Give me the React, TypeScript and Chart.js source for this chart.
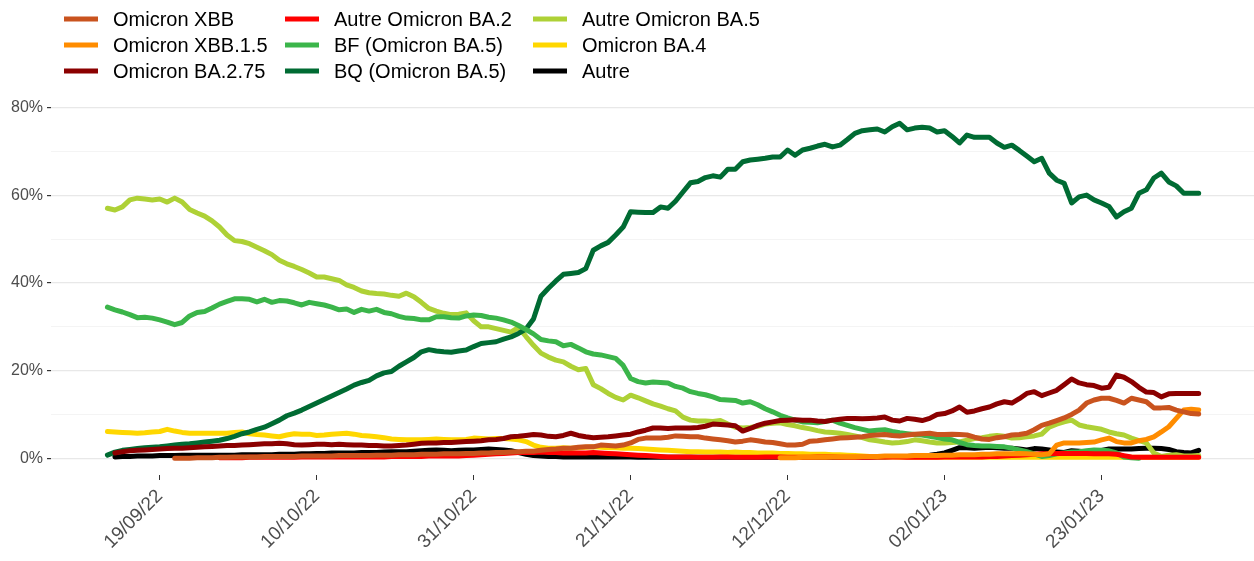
import React, { useEffect, useRef } from "react";
import { Chart, registerables } from "chart.js";

Chart.register(...registerables);

const FONT = '"Liberation Sans", Arial, Helvetica, sans-serif';

// Daily categories: 12/09/22 -> 05/02/23
const START_Y = 2022, START_M = 8, START_D = 12, N_DAYS = 147;
const dates: string[] = Array.from({ length: N_DAYS }, (_, i) => {
  const d = new Date(START_Y, START_M, START_D + i);
  const dd = String(d.getDate()).padStart(2, "0");
  const mm = String(d.getMonth() + 1).padStart(2, "0");
  const yy = String(d.getFullYear() % 100).padStart(2, "0");
  return `${dd}/${mm}/${yy}`;
});

const tickLabels = ["19/09/22", "10/10/22", "31/10/22", "21/11/22", "12/12/22", "02/01/23", "23/01/23"];
const yTicks = [0, 10, 20, 30, 40, 50, 60, 70, 80];

const N = null;

const omicronXBB = [
  N, N, N, N, N, N, N, N, N, 0.0,
  0.0, 0.0, 0.1, 0.1, 0.1, 0.2, 0.2, 0.3, 0.3, 0.3,
  0.3, 0.4, 0.4, 0.4, 0.4, 0.4, 0.5, 0.5, 0.5, 0.5,
  0.5, 0.6, 0.6, 0.6, 0.6, 0.6, 0.7, 0.7, 0.7, 0.8,
  0.8, 0.8, 0.9, 0.9, 0.9, 1.0, 1.0, 1.0, 1.1, 1.1,
  1.2, 1.2, 1.3, 1.3, 1.4, 1.5, 1.6, 1.6, 1.8, 2.0,
  2.1, 2.3, 2.3, 2.5, 2.6, 2.6, 3.0, 2.9, 2.8, 3.0,
  3.5, 4.3, 4.6, 4.6, 4.6, 4.8, 5.1, 5.0, 4.9, 4.9,
  4.6, 4.4, 4.2, 4.0, 3.7, 3.9, 4.2, 4.0, 3.7, 3.6,
  3.3, 3.0, 3.0, 3.2, 3.9, 4.0, 4.2, 4.4, 4.6, 4.7,
  4.8, 4.9, 5.2, 5.3, 5.4, 5.2, 5.1, 5.3, 5.5, 5.6,
  5.7, 5.4, 5.4, 5.5, 5.4, 5.3, 4.8, 4.4, 4.3, 4.7,
  4.9, 5.3, 5.4, 5.7, 6.5, 7.5, 8.0, 8.6, 9.2, 10.0,
  11.0, 12.6, 13.3, 13.7, 13.7, 13.2, 12.6, 13.7, 13.3, 12.9,
  11.5, 11.5, 11.6, 11.0, 10.6, 10.2, 10.1,
];

const omicronXBB15 = [
  N, N, N, N, N, N, N, N, N, N,
  N, N, N, N, N, N, N, N, N, N,
  N, N, N, N, N, N, N, N, N, N,
  N, N, N, N, N, N, N, N, N, N,
  N, N, N, N, N, N, N, N, N, N,
  N, N, N, N, N, N, N, N, N, N,
  N, N, N, N, N, N, N, N, N, N,
  N, N, N, N, N, N, N, N, N, N,
  N, N, N, N, N, N, N, N, N, N,
  0.1, 0.1, 0.1, 0.2, 0.2, 0.2, 0.2, 0.3, 0.3, 0.3,
  0.3, 0.4, 0.4, 0.4, 0.5, 0.5, 0.5, 0.5, 0.6, 0.6,
  0.6, 0.6, 0.7, 0.7, 0.8, 0.8, 0.8, 0.9, 0.9, 1.0,
  1.0, 1.0, 1.1, 1.0, 0.9, 0.8, 1.0, 3.0, 3.5, 3.5,
  3.5, 3.6, 3.7, 4.2, 4.6, 3.8, 3.5, 3.5, 4.0, 4.3,
  4.9, 6.0, 7.2, 9.1, 11.0, 11.2, 11.0,
];

const omicronBA275 = [
  N, 1.2, 1.5, 1.7, 1.8, 1.9, 2.0, 2.1, 2.2, 2.3,
  2.3, 2.4, 2.5, 2.6, 2.7, 2.8, 2.9, 2.9, 3.0, 3.1,
  3.2, 3.3, 3.3, 3.4, 3.3, 3.1, 3.0, 3.1, 3.2, 3.2,
  3.1, 3.2, 3.1, 3.0, 3.0, 2.9, 2.9, 2.8, 2.8, 2.9,
  3.0, 3.2, 3.4, 3.5, 3.5, 3.6, 3.6, 3.7, 3.8, 3.9,
  4.0, 4.2, 4.3, 4.5, 4.9, 5.0, 5.2, 5.4, 5.3, 5.0,
  4.9, 5.2, 5.7, 5.2, 4.9, 4.7, 4.8, 4.9, 5.1, 5.3,
  5.5, 6.0, 6.4, 6.9, 6.9, 6.8, 6.9, 6.9, 6.9, 7.0,
  7.3, 7.8, 7.7, 7.6, 7.4, 6.2, 6.8, 7.5, 8.0, 8.3,
  8.6, 8.7, 8.8, 8.7, 8.7, 8.5, 8.4, 8.7, 8.9, 9.1,
  9.1, 9.0, 9.1, 9.2, 9.4, 8.7, 8.5, 9.1, 8.9, 8.6,
  9.1, 10.0, 10.2, 10.8, 11.7, 10.5, 10.8, 11.3, 11.7, 12.4,
  12.9, 12.6, 13.6, 14.8, 15.2, 14.3, 14.9, 15.5, 16.8, 18.1,
  17.2, 16.8, 16.6, 16.0, 16.2, 19.0, 18.5, 17.5, 16.2, 15.1,
  15.0, 14.0, 14.7, 14.8, 14.8, 14.8, 14.8,
];

const autreBA2 = [
  N, N, N, N, N, N, N, N, N, N,
  N, N, N, N, N, 0.1, 0.1, 0.1, 0.1, 0.2,
  0.2, 0.2, 0.2, 0.2, 0.2, 0.2, 0.3, 0.3, 0.3, 0.3,
  0.3, 0.3, 0.3, 0.3, 0.3, 0.3, 0.3, 0.3, 0.4, 0.4,
  0.4, 0.4, 0.4, 0.5, 0.5, 0.5, 0.5, 0.5, 0.6, 0.7,
  0.8, 0.9, 1.0, 1.1, 1.2, 1.3, 1.3, 1.3, 1.4, 1.3,
  1.3, 1.2, 1.2, 1.2, 1.2, 1.3, 1.2, 1.1, 1.0, 0.9,
  0.8, 0.7, 0.6, 0.5, 0.4, 0.3, 0.3, 0.3, 0.3, 0.2,
  0.2, 0.2, 0.3, 0.3, 0.2, 0.2, 0.2, 0.2, 0.3, 0.3,
  0.3, 0.2, 0.2, 0.2, 0.2, 0.3, 0.3, 0.3, 0.2, 0.2,
  0.2, 0.2, 0.2, 0.3, 0.3, 0.3, 0.3, 0.2, 0.2, 0.2,
  0.2, 0.2, 0.3, 0.3, 0.3, 0.3, 0.3, 0.3, 0.4, 0.4,
  0.5, 0.6, 0.7, 0.8, 0.9, 1.0, 1.0, 1.1, 1.1, 1.1,
  1.1, 1.1, 1.0, 1.0, 1.0, 0.9, 0.6, 0.3, 0.2, 0.2,
  0.2, 0.2, 0.2, 0.2, 0.2, 0.2, 0.2,
];

const bfBA5 = [
  34.5, 33.9, 33.4, 32.8, 32.1, 32.2, 32.0, 31.6, 31.1, 30.5,
  31.0, 32.5, 33.3, 33.5, 34.3, 35.2, 35.8, 36.4, 36.4, 36.3,
  35.7, 36.3, 35.6, 36.0, 35.9, 35.5, 35.0, 35.6, 35.3, 35.0,
  34.5, 33.9, 34.1, 33.3, 34.0, 33.6, 34.0, 33.3, 33.0, 32.4,
  32.0, 31.9, 31.6, 31.6, 32.3, 32.3, 32.1, 32.0, 32.5, 32.7,
  32.6, 32.2, 32.0, 31.6, 31.1, 30.3, 29.4, 28.4, 27.1, 26.8,
  26.6, 25.7, 26.0, 25.2, 24.3, 23.8, 23.6, 23.2, 22.8, 21.2,
  18.2, 17.5, 17.2, 17.4, 17.3, 17.2, 16.4, 16.0, 15.2, 14.8,
  14.5, 14.0, 13.4, 13.3, 13.2, 12.6, 12.9, 12.2, 11.3, 10.6,
  9.8, 9.2, 8.7, 8.3, 8.2, 8.1, 8.4, 8.7, 8.0, 7.5,
  7.0, 6.6, 6.2, 6.4, 6.5, 6.1, 5.8, 5.6, 5.4, 5.3,
  5.0, 4.7, 4.4, 4.2, 3.6, 3.1, 2.9, 2.8, 2.8, 2.7,
  2.6, 2.3, 1.9, 1.5, 1.0, 0.4, 0.6, 1.0, 1.2, 1.4,
  1.5, 1.7, 1.9, 1.8, 1.7, 1.2, 0.3, 0.1, 0.0, N,
  N, N, N, N, N, N, N,
];

const bqBA5 = [
  0.7, 1.4, 1.8, 2.0, 2.2, 2.4, 2.5, 2.6, 2.8, 3.0,
  3.2, 3.3, 3.5, 3.7, 3.9, 4.1, 4.5, 5.0, 5.6, 6.0,
  6.6, 7.1, 7.9, 8.7, 9.7, 10.3, 11.0, 11.8, 12.6, 13.4,
  14.2, 15.0, 15.8, 16.7, 17.3, 17.8, 18.8, 19.5, 19.8, 21.0,
  22.0, 23.0, 24.3, 24.8, 24.5, 24.3, 24.2, 24.5, 24.7, 25.5,
  26.2, 26.4, 26.6, 27.2, 27.7, 28.5, 29.5, 31.8, 37.0, 38.8,
  40.5, 42.0, 42.2, 42.4, 43.3, 47.5, 48.5, 49.3, 51.0, 52.8,
  56.3, 56.2, 56.1, 56.1, 57.4, 57.1, 58.7, 60.8, 62.9, 63.2,
  64.1, 64.5, 64.2, 66.0, 66.0, 67.7, 68.1, 68.3, 68.5, 68.8,
  68.8, 70.4, 69.2, 70.4, 70.8, 71.3, 71.7, 71.1, 71.5, 72.8,
  74.2, 74.8, 75.0, 75.2, 74.5, 75.7, 76.5, 75.0, 75.4, 75.6,
  75.4, 74.5, 74.8, 73.5, 72.0, 73.8, 73.3, 73.3, 73.3, 72.0,
  71.0, 71.5, 70.3, 69.0, 67.7, 68.5, 65.1, 63.5, 62.8, 58.3,
  59.7, 60.1, 59.0, 58.3, 57.5, 55.1, 56.3, 57.1, 60.5, 61.3,
  64.0, 65.1, 63.1, 62.2, 60.5, 60.5, 60.5,
];

const autreBA5 = [
  57.1, 56.7, 57.4, 59.0, 59.4, 59.2, 59.0, 59.2, 58.5, 59.4,
  58.5, 56.8, 56.0, 55.3, 54.2, 52.8, 51.0, 49.7, 49.5, 49.0,
  48.2, 47.4, 46.5, 45.2, 44.4, 43.8, 43.1, 42.3, 41.4, 41.4,
  41.0, 40.6, 39.6, 39.0, 38.2, 37.8, 37.6, 37.5, 37.2, 37.0,
  37.7, 36.9, 35.6, 34.2, 33.6, 33.1, 32.8, 32.9, 33.2, 31.4,
  30.0, 30.0, 29.6, 29.2, 28.8, 29.9, 27.8, 25.8, 24.0, 23.1,
  22.4, 22.0, 21.0, 20.2, 20.5, 16.8, 15.9, 14.8, 13.9, 13.3,
  14.4, 13.8, 13.1, 12.4, 11.9, 11.3, 10.8, 9.4, 8.7, 8.5,
  8.5, 8.4, 8.6, 7.8, 7.1, 6.9, 7.0, 7.3, 7.8, 8.0,
  8.1, 7.7, 7.4, 7.0, 6.7, 6.3, 6.0, 5.9, 5.7, 5.4,
  5.1, 4.7, 4.2, 4.0, 3.7, 3.5, 3.6, 3.8, 4.2, 4.0,
  3.7, 3.5, 3.5, 3.6, 3.7, 4.1, 4.5, 4.7, 5.0, 5.2,
  5.0, 4.6, 4.7, 4.9, 5.1, 5.5, 7.1, 7.8, 8.3, 8.7,
  7.6, 7.2, 6.9, 6.6, 6.0, 5.6, 5.3, 4.6, 4.0, 3.5,
  1.2, 0.4, 0.7, 0.8, 0.5, 0.5, 0.6,
];

const omicronBA4 = [
  6.1, 6.0, 5.9, 5.8, 5.7, 5.8, 6.0, 6.1, 6.6, 6.2,
  5.9, 5.7, 5.7, 5.7, 5.7, 5.7, 5.7, 5.9, 6.0, 5.6,
  5.4, 5.3, 5.1, 4.9, 5.3, 5.6, 5.5, 5.5, 5.2, 5.3,
  5.5, 5.6, 5.7, 5.5, 5.2, 5.1, 4.9, 4.7, 4.4, 4.3,
  4.2, 4.2, 4.2, 4.3, 4.4, 4.3, 4.2, 4.2, 4.3, 4.6,
  4.5, 4.4, 4.5, 4.5, 4.4, 4.2, 3.8, 3.0, 2.5, 2.3,
  2.3, 2.4, 2.3, 2.4, 2.5, 2.6, 2.5, 2.4, 2.4, 2.3,
  2.3, 2.2, 2.1, 2.0, 1.9, 1.8, 1.7, 1.6, 1.5, 1.5,
  1.4, 1.4, 1.4, 1.3, 1.4, 1.3, 1.3, 1.2, 1.2, 1.2,
  1.1, 1.1, 1.0, 1.0, 0.9, 0.9, 0.9, 0.8, 0.8, 0.7,
  0.6, 0.5, 0.4, 0.3, 0.3, 0.3, 0.2, 0.2, 0.2, 0.2,
  0.2, 0.2, 0.2, 0.2, 0.2, 0.2, 0.2, 0.2, 0.2, 0.2,
  0.2, 0.2, 0.2, 0.2, 0.2, 0.2, 0.2, 0.2, 0.2, 0.2,
  0.2, 0.2, 0.2, 0.2, 0.2, 0.2, 0.2, 0.2, 0.2, 0.2,
  0.2, 0.2, 0.2, 0.2, 0.2, 0.2, 0.2,
];

const autre = [
  N, 0.3, 0.4, 0.4, 0.5, 0.5, 0.5, 0.6, 0.6, 0.6,
  0.7, 0.7, 0.7, 0.7, 0.7, 0.7, 0.7, 0.7, 0.8, 0.8,
  0.8, 0.8, 0.8, 0.9, 0.9, 0.9, 1.0, 1.0, 1.1, 1.1,
  1.2, 1.2, 1.2, 1.2, 1.3, 1.3, 1.3, 1.4, 1.5, 1.5,
  1.5, 1.6, 1.7, 1.8, 1.9, 1.8, 1.7, 1.8, 1.9, 1.9,
  2.0, 2.1, 2.0, 1.9, 1.7, 1.3, 0.9, 0.6, 0.5, 0.4,
  0.4, 0.3, 0.3, 0.3, 0.3, 0.3, 0.3, 0.3, 0.3, 0.3,
  0.3, 0.2, 0.2, 0.2, 0.2, 0.2, 0.2, 0.2, 0.2, 0.2,
  0.2, 0.2, 0.2, 0.2, 0.2, 0.2, 0.2, 0.2, 0.2, 0.2,
  0.2, 0.2, 0.2, 0.2, 0.2, 0.2, 0.2, 0.2, 0.2, 0.3,
  0.3, 0.3, 0.3, 0.3, 0.3, 0.4, 0.4, 0.4, 0.5, 0.6,
  0.7, 0.9, 1.2, 1.8, 2.4, 2.4, 2.3, 2.4, 2.5, 2.4,
  2.3, 2.3, 2.1, 1.9, 2.2, 2.1, 1.9, 1.4, 1.3, 1.7,
  1.6, 1.4, 1.5, 1.8, 2.1, 2.1, 2.1, 2.1, 2.2, 2.3,
  2.3, 2.2, 2.0, 1.5, 1.3, 1.2, 1.8,
];

const seriesNames = [
  "Omicron XBB", "Omicron XBB.1.5", "Omicron BA.2.75",
  "Autre Omicron BA.2", "BF (Omicron BA.5)", "BQ (Omicron BA.5)",
  "Autre Omicron BA.5", "Omicron BA.4", "Autre",
];
const seriesValues = [
  omicronXBB, omicronXBB15, omicronBA275,
  autreBA2, bfBA5, bqBA5,
  autreBA5, omicronBA4, autre,
];
const seriesColors = [
  "#C9531E", "#FF8C00", "#8B0000",
  "#FF0000", "#3BB54A", "#006B33",
  "#AED136", "#FFD700", "#000000",
];

const gridLegend = {
  id: "gridLegend",
  afterDraw(chart: any) {
    const ctx = chart.ctx as CanvasRenderingContext2D;
    const colX = [64, 285, 533];
    const rowY = [19, 45, 71];
    ctx.save();
    ctx.font = `20px ${FONT}`;
    ctx.textBaseline = "middle";
    ctx.textAlign = "left";
    chart.data.datasets.forEach((d: any, i: number) => {
      const c = Math.floor(i / 3);
      const r = i % 3;
      const x = colX[c];
      const y = rowY[r];
      ctx.strokeStyle = d.borderColor;
      ctx.lineWidth = 5;
      ctx.lineCap = "butt";
      ctx.beginPath();
      ctx.moveTo(x, y);
      ctx.lineTo(x + 34, y);
      ctx.stroke();
      ctx.fillStyle = "#000000";
      ctx.fillText(d.label, x + 49, y + 1);
    });
    ctx.restore();
  },
};

export default function App() {
  const ref = useRef<HTMLCanvasElement | null>(null);

  useEffect(() => {
    if (!ref.current) return;
    const tickIdx = tickLabels.map((t) => dates.indexOf(t));
    const chart = new Chart(ref.current, {
      type: "line",
      data: {
        datasets: seriesNames.map((name, i) => ({
          label: name,
          data: seriesValues[i].map((v, j) => ({ x: j, y: v as any })),
          borderColor: seriesColors[i],
          backgroundColor: seriesColors[i],
          borderWidth: 5,
          pointRadius: 0,
          pointHoverRadius: 0,
          tension: 0,
          borderCapStyle: "round",
          borderJoinStyle: "round",
          spanGaps: false,
          fill: false,
        })),
      },
      options: {
        responsive: false,
        animation: false,
        devicePixelRatio: 1,
        events: [],
        layout: { padding: { top: 106.5, left: 0, right: 0, bottom: 0 } },
        plugins: {
          legend: { display: false },
          tooltip: { enabled: false },
          title: { display: false },
        },
        scales: {
          x: {
            type: "linear",
            min: -7.55,
            max: 153.4,
            afterBuildTicks: (axis: any) => {
              axis.ticks = tickIdx.map((v) => ({ value: v }));
            },
            afterFit: (s: any) => {
              s.height = 86;
            },
            ticks: {
              autoSkip: false,
              maxRotation: 45,
              minRotation: 45,
              color: "#4D4D4D",
              padding: 5,
              font: { family: FONT, size: 19 },
              callback: (v: any) => dates[Math.round(Number(v))] ?? "",
            },
            grid: {
              drawOnChartArea: false,
              drawTicks: true,
              tickLength: 5,
              tickColor: "#333333",
              lineWidth: 1,
            },
            border: { display: false },
          },
          y: {
            type: "linear",
            min: -3.83,
            max: 80.33,
            afterBuildTicks: (axis: any) => {
              axis.ticks = yTicks.map((v) => ({ value: v }));
            },
            afterFit: (s: any) => {
              s.width = 51;
            },
            ticks: {
              color: "#4D4D4D",
              padding: 4,
              font: { family: FONT, size: 16 },
              callback: (v: any) => (Number(v) % 20 === 0 ? `${v}%` : ""),
            },
            grid: {
              color: (c: any) => (c.tick && c.tick.value % 20 === 0 ? "#E8E8E8" : "#F3F3F3"),
              lineWidth: (c: any) => (c.tick && c.tick.value % 20 === 0 ? 1.2 : 0.9),
              tickColor: (c: any) => (c.tick && c.tick.value % 20 === 0 ? "#333333" : "rgba(0,0,0,0)"),
              tickLength: 4,
              drawTicks: true,
            },
            border: { display: false },
          },
        },
      },
      plugins: [gridLegend],
    });
    return () => chart.destroy();
  }, []);

  return (
    <div style={{ position: "fixed", left: 0, top: 0, width: 1254, height: 561, background: "#ffffff" }}>
      <canvas ref={ref} width={1254} height={561} style={{ display: "block", width: 1254, height: 561 }} />
    </div>
  );
}
